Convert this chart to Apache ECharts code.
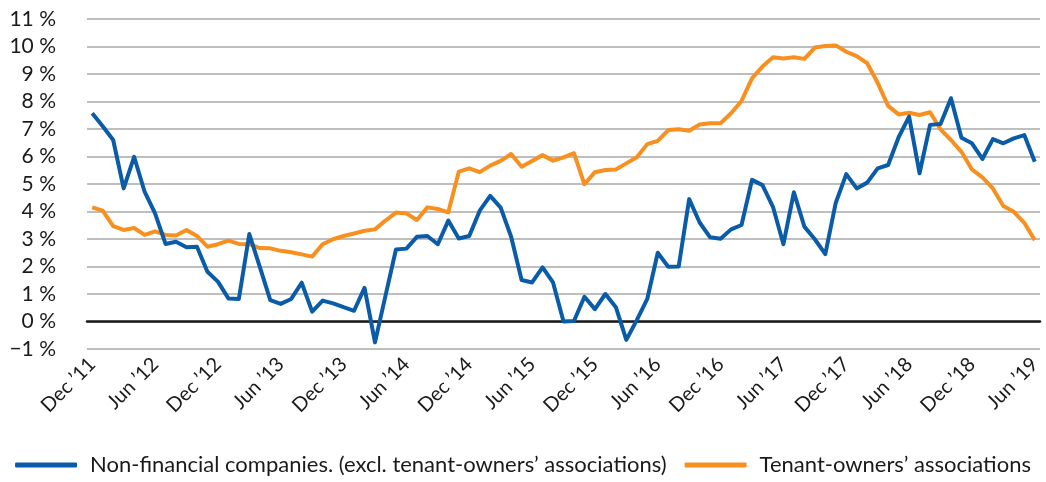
<!DOCTYPE html>
<html>
<head>
<meta charset="utf-8">
<script src="https://cdn.jsdelivr.net/npm/echarts@6/dist/echarts.min.js"></script>
<style>
  html, body { margin: 0; padding: 0; background: #fff; }
  #chart { width: 1046px; height: 482px; }
</style>
</head>
<body>
<div id="chart"></div>
<script>
// months Dec '11 .. Jun '19
const monthNames = ['Jan', 'Feb', 'Mar', 'Apr', 'May', 'Jun', 'Jul', 'Aug', 'Sep', 'Oct', 'Nov', 'Dec']
const months = []
for (let y = 2011, m = 11; y < 2019 || (y === 2019 && m <= 5); m++) {
  if (m === 12) { m = 0; y++ }
  months.push(monthNames[m] + ' \u2019' + String(y).slice(2))
}

const nonFinancial = [
  7.57, 7.1, 6.6, 4.84, 5.99, 4.72, 3.93, 2.82, 2.9, 2.7,
  2.72, 1.81, 1.45, 0.84, 0.82, 3.18, 1.99, 0.78, 0.64, 0.82,
  1.41, 0.36, 0.76, 0.66, 0.52, 0.39, 1.22, -0.76, 0.93, 2.62,
  2.65, 3.08, 3.11, 2.81, 3.67, 3.02, 3.11, 4.03, 4.57, 4.14,
  3.08, 1.51, 1.42, 1.97, 1.42, 0.0, 0.02, 0.9, 0.45, 1.0,
  0.52, -0.67, 0.05, 0.82, 2.5, 1.99, 2.0, 4.45, 3.6, 3.06,
  3.01, 3.35, 3.51, 5.15, 4.96, 4.17, 2.81, 4.7, 3.45, 2.99,
  2.45, 4.32, 5.36, 4.84, 5.05, 5.57, 5.69, 6.7, 7.45, 5.39,
  7.15, 7.18, 8.12, 6.68, 6.48, 5.91, 6.63, 6.48, 6.66, 6.78,
  5.81
]

const tenantOwners = [
  4.15, 4.03, 3.47, 3.33, 3.4, 3.15, 3.28, 3.15, 3.13, 3.33,
  3.11, 2.72, 2.81, 2.94, 2.82, 2.81, 2.67, 2.66, 2.57, 2.52,
  2.44, 2.36, 2.81, 2.99, 3.11, 3.2, 3.3, 3.35, 3.67, 3.96,
  3.93, 3.69, 4.15, 4.09, 3.97, 5.45, 5.57, 5.43, 5.67, 5.84,
  6.09, 5.63, 5.84, 6.05, 5.85, 5.97, 6.12, 4.99, 5.43, 5.51,
  5.53, 5.75, 5.97, 6.45, 6.57, 6.96, 6.99, 6.94, 7.16, 7.21,
  7.21, 7.57, 8.02, 8.84, 9.27, 9.61, 9.56, 9.61, 9.55, 9.96,
  10.02, 10.04, 9.81, 9.65, 9.39, 8.68, 7.84, 7.53, 7.59, 7.51,
  7.61, 6.99, 6.6, 6.17, 5.53, 5.24, 4.84, 4.2, 3.99, 3.59,
  2.96
]

const seriesNames = [
  'Non-financial companies. (excl. tenant-owners\u2019 associations)',
  'Tenant-owners\u2019 associations'
]
const colors = ['#0a5ca8', '#f7901e']

const font = 'Lato, "Open Sans", sans-serif'
const chart = echarts.init(document.getElementById('chart'))

const option = {
  animation: false,
  color: colors,
  textStyle: { fontFamily: font },
  grid: { left: 87, right: 6, top: 19, bottom: 133 },
  legend: {
    bottom: 1,
    left: 'center',
    icon: 'roundRect',
    itemWidth: 62,
    itemHeight: 5,
    itemGap: 18,
    textStyle: { fontSize: 22, color: '#1a1a1a', fontFamily: font, padding: [0, 0, 0, 8] },
    data: seriesNames
  },
  xAxis: {
    type: 'category',
    data: months,
    boundaryGap: true,
    axisLine: { onZero: true, lineStyle: { color: '#1a1a1a', width: 2.5 } },
    axisTick: { show: false },
    axisLabel: {
      interval: 5,
      rotate: 45,
      fontSize: 20,
      color: '#1a1a1a',
      margin: 12
    },
    splitLine: { show: false }
  },
  yAxis: {
    type: 'value',
    min: -1,
    max: 11,
    interval: 1,
    axisLine: { show: false },
    axisTick: { show: false },
    axisLabel: {
      fontSize: 21,
      color: '#1a1a1a',
      margin: 31,
      formatter: v => (v < 0 ? '\u2212' + Math.abs(v) : v) + ' %'
    },
    splitLine: { lineStyle: { color: '#a8a8a8', width: 1.5 } }
  },
  series: [
    {
      name: seriesNames[0],
      type: 'line',
      data: nonFinancial,
      symbol: 'none',
      lineStyle: { width: 4, color: colors[0], join: 'round' },
      z: 3
    },
    {
      name: seriesNames[1],
      type: 'line',
      data: tenantOwners,
      symbol: 'none',
      lineStyle: { width: 4, color: colors[1], join: 'round' },
      z: 2
    }
  ]
}

chart.setOption(option)
</script>
</body>
</html>
